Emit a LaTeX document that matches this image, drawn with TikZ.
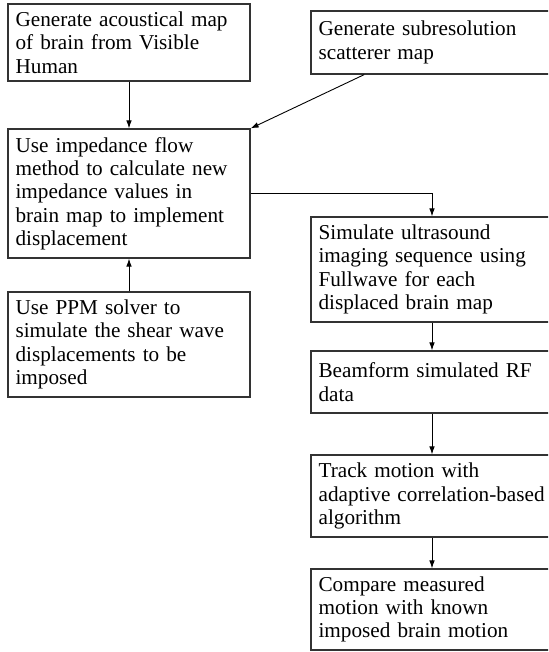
\documentclass[tikz,border=0pt]{standalone}
\usepackage{fontspec}
\setmainfont{Liberation Serif}
\usetikzlibrary{arrows.meta}
\tikzset{
  stepbox/.style={draw=black!80, line width=0.6pt, rectangle, align=left,
    text width=113.4pt, inner xsep=3.8pt, inner ysep=0pt,
    font=\fontsize{10.6}{11.65}\selectfont, anchor=center},
  conn/.style={line width=0.45pt, -{Latex[length=4pt,width=2.8pt]}}
}
\begin{document}
\begin{tikzpicture}[x=0.5pt,y=-0.5pt]
\useasboundingbox (0,0) rectangle (548,652);
\clip (0,0) rectangle (548,652);
\node[stepbox, minimum height=38.5pt] (A) at (129,42.5) {Generate acoustical map\\of brain from Visible\\Human};
\node[stepbox, minimum height=31.5pt] (B) at (432,42.5) {Generate subresolution\\scatterer map};
\node[stepbox, minimum height=64.5pt] (C) at (129,193.5) {Use impedance flow\\method to calculate new\\impedance values in\\brain map to implement\\displacement};
\node[stepbox, minimum height=52.5pt] (H) at (129,344.5) {Use PPM solver to\\simulate the shear wave\\displacements to be\\imposed};
\node[stepbox, minimum height=52.5pt] (D) at (432,269.5) {Simulate ultrasound\\imaging sequence using\\Fullwave for each\\displaced brain map};
\node[stepbox, minimum height=31pt] (E) at (432,382) {Beamform simulated RF\\data};
\node[stepbox, minimum height=41pt] (F) at (432,496) {Track motion with\\adaptive correlation-based\\algorithm};
\node[stepbox, minimum height=40.5pt] (G) at (432,609.5) {Compare measured\\motion with known\\imposed brain motion};
\draw[conn] (A) -- (C);
\draw[conn] (B) -- (C.north east);
\draw[conn] (H) -- (C);
\draw[conn] (C.east) -| (D.north);
\draw[conn] (D) -- (E);
\draw[conn] (E) -- (F);
\draw[conn] (F) -- (G);
\end{tikzpicture}
\end{document}
